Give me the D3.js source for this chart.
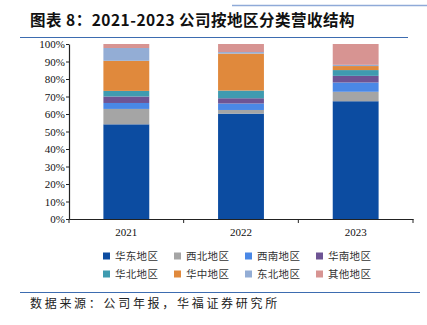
<!DOCTYPE html>
<html>
<head>
<meta charset="utf-8">
<script src="https://cdn.jsdelivr.net/npm/d3@7"></script>
<style>
  body { margin: 0; background: #fff; }
  svg { display: block; }
</style>
</head>
<body>
<div id="chart"></div>
<script>
// === data ===
const years = ["2021", "2022", "2023"];
const regions = ["华东地区", "西北地区", "西南地区", "华南地区", "华北地区", "华中地区", "东北地区", "其他地区"];
const colors = ["#0c4ca1", "#a5a5a5", "#4a88e6", "#6e5494", "#3f9bb0", "#e0893c", "#93add5", "#d79492"];
// share of revenue, %
const east = [54.1, 60.2, 67.3];
const northwest = [8.8, 2.1, 5.4];
const southwest = [3.4, 3.7, 5.3];
const south = [3.7, 3.0, 3.8];
const north = [3.2, 4.4, 3.3];
const central = [17.2, 21.1, 2.3];
const northeast = [7.3, 0.9, 0.7];
const other = [2.3, 4.6, 11.9];
const yTicks = [0, 10, 20, 30, 40, 50, 60, 70, 80, 90, 100];

const title = "图表 8：2021-2023 公司按地区分类营收结构";
const source = "数据来源：公司年报，华福证券研究所";

(() => {
  const width = 427, height = 325;
  const margin = { left: 69, right: 14, top: 44, bottom: 106 };

  const series = [east, northwest, southwest, south, north, central, northeast, other];
  const table = years.map((y, i) => {
    const row = { year: y };
    regions.forEach((r, k) => (row[r] = series[k][i]));
    return row;
  });
  const stacked = d3.stack().keys(regions)(table);

  const svg = d3.select("#chart").append("svg")
    .attr("width", width).attr("height", height);

  // header fragments
  svg.append("line").attr("x1", 232).attr("x2", 427).attr("y1", 5.5).attr("y2", 5.5)
    .attr("stroke", "#8faad8").attr("stroke-width", 1.5);

  svg.append("text").attr("x", 30).attr("y", 26)
    .attr("font-family", "Noto Sans CJK SC").attr("font-weight", "bold")
    .attr("font-size", 15.5).attr("letter-spacing", 0.5).attr("fill", "#111").text(title);
  svg.append("line").attr("x1", 20).attr("x2", 408).attr("y1", 37.5).attr("y2", 37.5)
    .attr("stroke", "#3d6cb0").attr("stroke-width", 1.2);

  const x = d3.scaleBand().domain(years)
    .range([margin.left, width - margin.right]).paddingInner(0.6).paddingOuter(0.3);
  const y = d3.scaleLinear().domain([0, 100]).range([height - margin.bottom, margin.top]);

  svg.append("g").selectAll("g").data(stacked).join("g")
    .attr("fill", (d, i) => colors[i])
    .selectAll("rect").data((d) => d).join("rect")
    .attr("x", (d) => x(d.data.year))
    .attr("width", x.bandwidth())
    .attr("y", (d) => y(Math.min(100, d[1])))
    .attr("height", (d) => y(d[0]) - y(Math.min(100, d[1])));

  const yAxis = svg.append("g").attr("transform", `translate(${margin.left},0)`)
    .call(d3.axisLeft(y).tickValues(yTicks).tickFormat((d) => d + "%").tickSize(3).tickSizeOuter(0));
  const xAxis = svg.append("g").attr("transform", `translate(0,${y(0)})`)
    .call(d3.axisBottom(x).tickSize(0).tickSizeOuter(0));

  // band boundary ticks on the x axis
  const step = x.step();
  const edges = [margin.left, ...years.map((yr) => x(yr) + x.bandwidth() / 2 + step / 2)];
  xAxis.selectAll(".edge").data(edges).join("line").attr("class", "edge")
    .attr("x1", (d) => d).attr("x2", (d) => d).attr("y1", 0).attr("y2", 4)
    .attr("stroke", "#222");

  [yAxis, xAxis].forEach((a) => {
    a.select(".domain").attr("stroke", "#222").attr("stroke-width", 1.2);
    a.selectAll(".tick line").attr("stroke", "#222");
    a.selectAll("text").attr("font-family", "Liberation Serif").attr("font-size", 11).attr("fill", "#111");
  });
  yAxis.selectAll("text").attr("x", -4);
  xAxis.selectAll("text").attr("dy", "1.25em");

  // legend
  const lg = svg.append("g").attr("font-family", "Noto Sans CJK SC").attr("font-size", 10.5).attr("fill", "#333");
  const colX = [103, 174, 245, 316];
  const rowY = [256, 274];
  regions.forEach((r, i) => {
    const gx = colX[i % 4], gy = rowY[Math.floor(i / 4)];
    lg.append("rect").attr("x", gx).attr("y", gy - 3.5).attr("width", 7).attr("height", 7).attr("fill", colors[i]);
    lg.append("text").attr("x", gx + 12).attr("y", gy).attr("dy", "0.36em").attr("letter-spacing", 0.3).text(r);
  });

  svg.append("line").attr("x1", 20).attr("x2", 420).attr("y1", 292.5).attr("y2", 292.5)
    .attr("stroke", "#3d6cb0").attr("stroke-width", 1.2);
  svg.append("text").attr("x", 30).attr("y", 308)
    .attr("font-family", "Noto Sans CJK SC").attr("font-size", 12).attr("letter-spacing", 2.7)
    .attr("fill", "#222").text(source);
})();
</script>
</body>
</html>
